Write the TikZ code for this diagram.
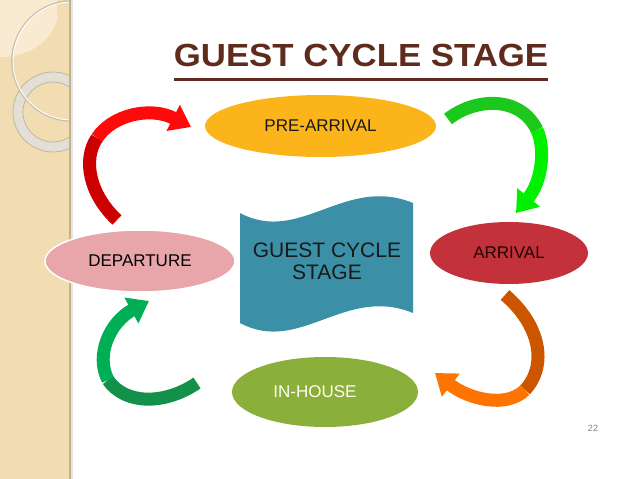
\documentclass[tikz,border=0pt]{standalone}
\usepackage{fontspec}
\usepackage{graphicx}
\setmainfont{Liberation Sans}
\usetikzlibrary{shapes.geometric,arrows.meta}
\definecolor{stripbg}{HTML}{F2DDB2}
\definecolor{striplight}{HTML}{F8EBD2}
\definecolor{stripedge}{HTML}{C4B08C}
\definecolor{ringfill}{HTML}{E3DFD5}
\definecolor{ringedge}{HTML}{B9B09E}
\definecolor{titlebrown}{HTML}{5E2B1C}
\definecolor{preC}{HTML}{FBB51A}
\definecolor{arrC}{HTML}{C3313A}
\definecolor{inC}{HTML}{8AAF3A}
\definecolor{depC}{HTML}{E8A5AA}
\definecolor{waveC}{HTML}{3B8FA7}
\definecolor{redD}{HTML}{CC0000}
\definecolor{redB}{HTML}{FF0A0A}
\definecolor{grnD}{HTML}{1DC81D}
\definecolor{grnB}{HTML}{00F000}
\definecolor{orD}{HTML}{CC5500}
\definecolor{orB}{HTML}{FF7300}
\definecolor{dgD}{HTML}{13904A}
\definecolor{dgB}{HTML}{00AE55}
\tikzset{
  ell/.style={ellipse, inner sep=0pt, font=\fontsize{17}{20}\selectfont},
  ribbon/.style={line width=13pt, line cap=butt},
  ribhead/.style={ribbon, -{Triangle[width=28pt,length=20pt]}},
  wavetext/.style={font=\fontsize{21}{22}\selectfont, align=center, text=black!90}
}
\begin{document}
\begin{tikzpicture}[x=1pt,y=-1pt]
\useasboundingbox (0,0) rectangle (638,479);
\fill[white] (0,0) rectangle (638,479);
% left strip
\fill[stripbg] (0,0) rectangle (70,479);
\begin{scope}
  \clip (0,0) rectangle (69.5,479);
  \fill[striplight] (0,0) -- (57,0) -- (57,20) .. controls (50,45) and (25,57) .. (0,57) -- cycle;
  \fill[ringfill, even odd rule] (53,112) circle[radius=40pt] (53,112) circle[radius=30pt];
  \draw[ringedge, line width=0.7pt] (53,112) circle[radius=40pt];
  \draw[ringedge, line width=0.7pt] (53,112) circle[radius=30pt];
  \draw[ringedge!80, line width=1.6pt] (72,61) circle[radius=60pt];
  \draw[white, line width=0.9pt] (72,61) circle[radius=59pt];
\end{scope}
\fill[black!10] (70.5,0) rectangle (72.5,479);
\draw[stripedge, line width=1.5pt] (70,0) -- (70,479);

% title
\node[font=\bfseries\fontsize{32}{32}\selectfont, text=titlebrown, inner sep=0pt, anchor=base] (title) at (361,66) {\scalebox{1.087}[1]{GUEST CYCLE STAGE}};
\path (title.base west) ++(0,13) coordinate (ul1);
\path (title.base east) ++(0,13) coordinate (ul2);
\draw[titlebrown, line width=3pt] (ul1) -- (ul2);

% central wave
\fill[waveC] (240,213) .. controls (300,245) and (345,175) .. (413,203)
  -- (413,313) .. controls (345,285) and (300,355) .. (240,323) -- cycle;
\node[wavetext] (center) at (327,261) {GUEST CYCLE\\STAGE};

% ellipses
\node[ell, fill=preC, minimum width=231pt, minimum height=62pt, text=black!90] (pre) at (320.5,126) {PRE-ARRIVAL};
\node[ell, fill=arrC, minimum width=158pt, minimum height=62pt, text=black!85!red] (arr) at (509,253) {ARRIVAL};
\node[ell, fill=inC, minimum width=186pt, minimum height=70pt, text=white!94!yellow] (inh) at (325,392) {\hspace*{-20pt}IN-HOUSE};
\node[ell, fill=depC, draw=white, line width=1.5pt, minimum width=190pt, minimum height=62pt, text=black] (dep) at (140,261) {DEPARTURE};

% curved arrows: named coordinates
\coordinate (r0) at (117,220);
\coordinate (r1) at (97,138);
\coordinate (r2) at (191,127);
\draw[ribbon, redD] (r0) .. controls (90,195) and (82,160) .. (r1);
\draw[ribhead, redB] (r1) .. controls (112,115) and (150,106) .. (r2);

\coordinate (g0) at (448,119);
\coordinate (g1) at (537,130);
\coordinate (g2) at (516,213);
\draw[ribbon, grnD] (g0) .. controls (475,98) and (520,95) .. (g1);
\draw[ribhead, grnB] (g1) .. controls (545,147) and (543,180) .. (g2);

\coordinate (o0) at (505,295);
\coordinate (o1) at (525,390);
\coordinate (o2) at (435,373);
\draw[ribbon, orD] (o0) .. controls (540,325) and (548,365) .. (o1);
\draw[ribhead, orB] (o1) .. controls (507,408) and (470,400) .. (o2);

\coordinate (d0) at (197,383);
\coordinate (d1) at (108,380);
\coordinate (d2) at (149,301);
\draw[ribbon, dgD] (d0) .. controls (165,405) and (125,405) .. (d1);
\draw[ribhead, dgB] (d1) .. controls (95,355) and (110,322) .. (d2);

% page number
\node[font=\fontsize{9}{9}\selectfont, text=black!50] (pg) at (593,428) {22};
\end{tikzpicture}
\end{document}
